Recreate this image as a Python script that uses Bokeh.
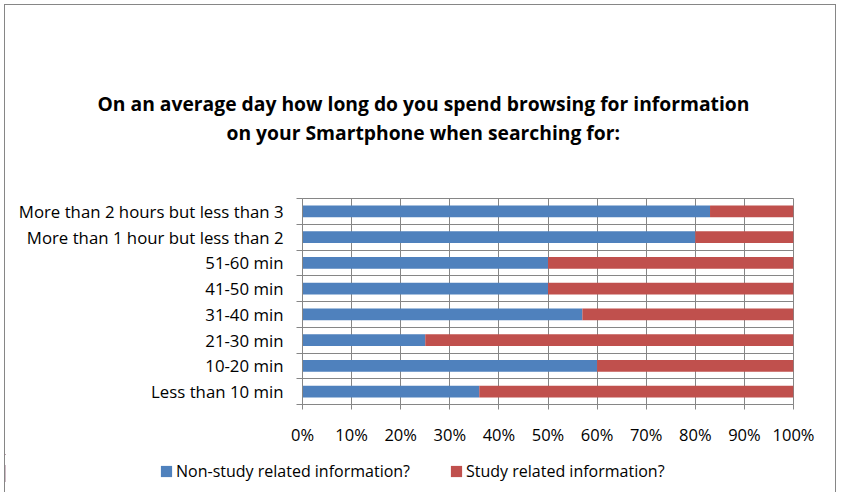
import numpy as np
from bokeh.plotting import figure
from bokeh.models import Range1d, FixedTicker, Title, Legend, LegendItem, ColumnDataSource
from bokeh.embed import file_html
from bokeh.resources import INLINE

title_lines = ["On an average day how long do you spend browsing for information",
               "on your Smartphone when searching for:"]
categories = ["Less than 10 min", "10-20 min", "21-30 min", "31-40 min",
              "41-50 min", "51-60 min", "More than 1 hour but less than 2",
              "More than 2 hours but less than 3"]
non_study = [36, 60, 25, 57, 50, 50, 80, 83]
study = [64, 40, 75, 43, 50, 50, 20, 17]
series_names = ["Non-study related information?", "Study related information?"]
x_ticks = [0, 10, 20, 30, 40, 50, 60, 70, 80, 90, 100]
x_tick_labels = ["0%", "10%", "20%", "30%", "40%", "50%", "60%", "70%", "80%", "90%", "100%"]

BLUE = "#4F81BD"
RED = "#C0504D"
GRID = "#868686"
FONT = "Open Sans"

n = len(categories)
ypos = np.arange(n) + 0.5
tot = np.array(non_study, float) + np.array(study, float)
ns_pct = np.array(non_study, float) / tot * 100
st_end = ns_pct + np.array(study, float) / tot * 100

src = ColumnDataSource(dict(y=ypos, ns=ns_pct, st=st_end, zero=np.zeros(n)))

W = 832
p = figure(width=W, height=450, x_range=Range1d(0, 100), y_range=Range1d(0, n),
           output_backend="svg", toolbar_location=None,
           min_border_left=297, min_border_right=44, min_border_top=193, min_border_bottom=51)

r1 = p.hbar(y="y", left="zero", right="ns", height=0.45, source=src,
            fill_color=BLUE, line_color=None)
r2 = p.hbar(y="y", left="ns", right="st", height=0.45, source=src,
            fill_color=RED, line_color=None)

p.outline_line_color = GRID
p.background_fill_color = "white"
p.border_fill_color = "white"

# x axis
p.xaxis.ticker = FixedTicker(ticks=x_ticks)
p.xaxis.major_label_overrides = {t: l for t, l in zip(x_ticks, x_tick_labels)}
p.xaxis.axis_line_color = GRID
p.xaxis.major_tick_line_color = GRID
p.xaxis.major_tick_in = 0
p.xaxis.major_tick_out = 5
p.xaxis.minor_tick_line_color = None
p.xaxis.minor_tick_out = 0
p.xaxis.major_label_standoff = 13
p.xaxis.major_label_text_font = FONT
p.xaxis.major_label_text_font_size = "16.5px"
p.xaxis.major_label_text_color = "black"

# y axis
p.yaxis.ticker = FixedTicker(ticks=list(ypos), minor_ticks=list(range(n + 1)))
p.yaxis.major_label_overrides = {float(y): c for y, c in zip(ypos, categories)}
p.yaxis.axis_line_color = GRID
p.yaxis.major_tick_line_color = None
p.yaxis.major_tick_in = 0
p.yaxis.major_tick_out = 0
p.yaxis.minor_tick_line_color = GRID
p.yaxis.minor_tick_in = 0
p.yaxis.minor_tick_out = 6
p.yaxis.major_label_standoff = 13
p.yaxis.major_label_text_font = FONT
p.yaxis.major_label_text_font_size = "16.8px"
p.yaxis.major_label_text_color = "black"

# grids
p.xgrid.ticker = FixedTicker(ticks=x_ticks)
p.ygrid.ticker = FixedTicker(ticks=list(range(n + 1)))
p.xgrid.grid_line_color = GRID
p.ygrid.grid_line_color = GRID

# title: spacer nearest the frame, then line 2, then line 1
p.add_layout(Title(text=" ", text_font_size="1px", standoff=50), "above")
p.add_layout(Title(text=title_lines[1], align="left", offset=-76, standoff=0,
                   text_font=FONT, text_font_style="bold", text_font_size="19.3px",
                   text_color="black"), "above")
p.add_layout(Title(text=title_lines[0], align="left", offset=-205, standoff=0,
                   text_font=FONT, text_font_style="bold", text_font_size="19.3px",
                   text_color="black"), "above")

p.styles = {"margin-left": "4px", "margin-top": "4px",
            "border-top": "1px solid #868686", "border-left": "1px solid #868686",
            "border-right": "1px solid #868686"}

# legend strip (separate root so its frame spans the full chart width)
lg = figure(width=W, height=38, x_range=Range1d(1000, 1001), y_range=Range1d(0, 1),
            output_backend="svg", toolbar_location=None,
            x_axis_type=None, y_axis_type=None, min_border=0)
lg.outline_line_color = None
lg.xgrid.visible = False
lg.ygrid.visible = False
k1 = lg.hbar(y="y", left="zero", right="ns", height=0.45, source=src,
             fill_color=BLUE, line_color=None)
k2 = lg.hbar(y="y", left="ns", right="st", height=0.45, source=src,
             fill_color=RED, line_color=None)
legend = Legend(items=[LegendItem(label=series_names[0], renderers=[k1]),
                       LegendItem(label=series_names[1], renderers=[k2])],
                location=(154, 10), orientation="horizontal",
                glyph_width=14, glyph_height=14, label_height=14,
                label_standoff=3, spacing=39, padding=0, margin=0,
                border_line_color=None, background_fill_alpha=0,
                label_text_font=FONT, label_text_font_size="16px",
                label_text_color="black")
lg.add_layout(legend, "center")
lg.styles = {"margin-left": "4px",
             "border-left": "1px solid #868686", "border-right": "1px solid #868686"}

open("out.html", "w").write(file_html([p, lg], INLINE))
